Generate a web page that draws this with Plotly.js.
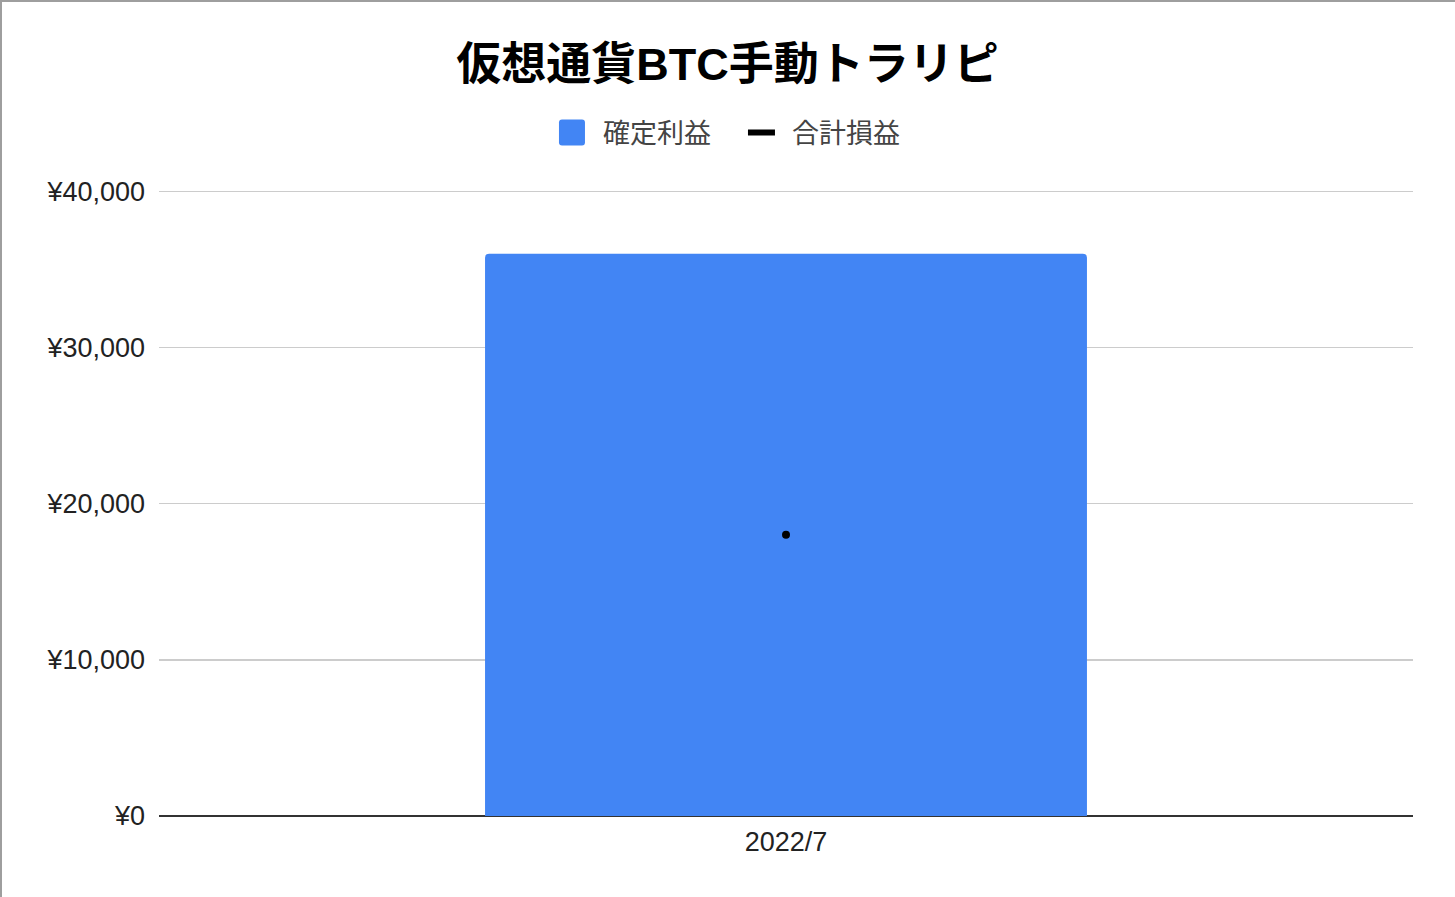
<!DOCTYPE html>
<html>
<head>
<meta charset="utf-8">
<script src="https://cdn.plot.ly/plotly-3.0.1.min.js"></script>
<style>
  body { margin: 0; background: #fff; }
  #chart { width: 1455px; height: 897px; }
  .edge { position: fixed; background: #9e9e9e; z-index: 10; }
</style>
</head>
<body>
<div id="chart"></div>
<div class="edge" style="left:0;top:0;width:1455px;height:2px;"></div>
<div class="edge" style="left:0;top:0;width:2px;height:897px;"></div>
<script>
// data
var months = ['2022/7'];
var realized = [36000];   // 確定利益
var totalPL = [18000];    // 合計損益
var yTicks = [0, 10000, 20000, 30000, 40000];
var yTickText = ['¥0', '¥10,000', '¥20,000', '¥30,000', '¥40,000'];

var data = [
  {
    type: 'bar',
    name: '確定利益',
    x: months,
    y: realized,
    marker: { color: '#4285f4', cornerradius: 4 },
    hoverinfo: 'x+y'
  },
  {
    type: 'scatter',
    mode: 'lines+markers',
    name: '合計損益',
    x: months,
    y: totalPL,
    line: { color: '#000', width: 6 },
    marker: { color: '#000', size: 8 }
  }
];

var layout = {
  width: 1455,
  height: 897,
  margin: { l: 159, r: 42, t: 190, b: 81 },
  paper_bgcolor: '#fff',
  plot_bgcolor: '#fff',
  font: { family: 'Arial, "Liberation Sans", "Noto Sans CJK JP", sans-serif', size: 27, color: '#222' },
  title: {
    text: '<b>仮想通貨BTC手動トラリピ</b>',
    font: { family: 'Arial, "Noto Sans CJK JP", sans-serif', size: 45, color: '#000' },
    x: 0.5,
    xanchor: 'center',
    yref: 'container',
    y: 1 - 64 / 897,
    yanchor: 'middle'
  },
  showlegend: true,
  legend: {
    orientation: 'h',
    x: 0.4617,
    xanchor: 'center',
    yref: 'container',
    y: 1 - 133 / 897,
    yanchor: 'middle',
    itemwidth: 44,
    entrywidth: 130,
    font: { family: '"Noto Sans CJK JP", sans-serif', size: 27, color: '#444' }
  },
  bargap: 0.52,
  xaxis: {
    type: 'category',
    showgrid: false,
    zeroline: false,
    showline: false,
    ticks: '',
    ticklabelstandoff: 7,
    tickfont: { size: 27, color: '#222' }
  },
  yaxis: {
    range: [0, 40080],
    tickvals: yTicks,
    ticktext: yTickText,
    showgrid: true,
    gridcolor: '#cccccc',
    gridwidth: 1.5,
    zeroline: true,
    zerolinecolor: '#333',
    zerolinewidth: 2,
    ticks: '',
    ticklabelstandoff: 13,
    tickfont: { size: 27, color: '#222' }
  }
};

Plotly.newPlot('chart', data, layout, { displayModeBar: false, staticPlot: true }).then(function (gd) {
  // make the legend keys look like the original: big rounded square and a short thick dash
  var items = gd.querySelectorAll('.legend .traces');
  if (items[0]) {
    items[0].querySelectorAll('.legendpoints path').forEach(function (p) {
      p.setAttribute('d', 'M-14,-13H6A3,3 0 0 1 9,-10V10A3,3 0 0 1 6,13H-14A3,3 0 0 1 -17,10V-10A3,3 0 0 1 -14,-13Z');
    });
  }
  if (items[1]) {
    items[1].querySelectorAll('.legendlines path').forEach(function (p) {
      p.setAttribute('d', 'M10,0h27');
      p.style.strokeWidth = '6px';
    });
    items[1].querySelectorAll('.legendsymbols path, .legendpoints path').forEach(function (p) {
      p.style.display = 'none';
    });
  }
});
</script>
</body>
</html>
